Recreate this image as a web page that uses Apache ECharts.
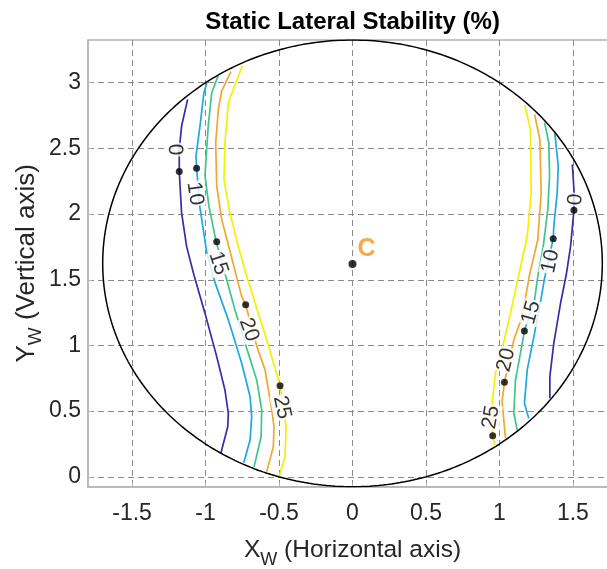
<!DOCTYPE html>
<html><head><meta charset="utf-8">
<script src="https://cdn.jsdelivr.net/npm/echarts@6/dist/echarts.min.js"></script>
<style>html,body{margin:0;padding:0;background:#fff;overflow:hidden;width:607px;height:569px}#c{width:617px;height:569px}</style>
</head><body><div id="c"></div>
<script>
// ---- data ----
const titleText = 'Static Lateral Stability (%)';
const xTicks = [-1.5, -1, -0.5, 0, 0.5, 1, 1.5];
const yTicks = [0, 0.5, 1, 1.5, 2, 2.5, 3];
const levels = ['0', '10', '15', '20', '25'];

const contour0Left = [[-1.122,2.873],[-1.163,2.67],[-1.179,2.49],[-1.179,2.324],[-1.163,2.009],[-1.129,1.754],[-1.08,1.54],[-1.004,1.246],[-0.924,0.915],[-0.868,0.661],[-0.845,0.484],[-0.849,0.381],[-0.895,0.183]];
const contour10Left = [[-0.99,3.005],[-1.011,2.924],[-1.038,2.67],[-1.065,2.441],[-1.061,2.349],[-1.038,2.047],[-0.993,1.716],[-0.936,1.48],[-0.845,1.195],[-0.754,0.865],[-0.697,0.61],[-0.686,0.458],[-0.697,0.28],[-0.74,0.107]];
const contour15Left = [[-0.915,3.051],[-0.958,2.924],[-0.982,2.67],[-1.004,2.294],[-0.977,2.06],[-0.93,1.8],[-0.856,1.5],[-0.8,1.272],[-0.72,0.979],[-0.652,0.738],[-0.618,0.509],[-0.622,0.305],[-0.67,0.076]];
const contour20Left = [[-0.827,3.085],[-0.89,2.937],[-0.913,2.797],[-0.931,2.543],[-0.924,2.212],[-0.89,1.958],[-0.845,1.767],[-0.793,1.539],[-0.754,1.373],[-0.727,1.31],[-0.652,0.997],[-0.595,0.814],[-0.549,0.509],[-0.534,0.381],[-0.539,0.229],[-0.584,0.038]];
const contour25Left = [[-0.75,3.127],[-0.811,2.95],[-0.845,2.848],[-0.868,2.543],[-0.875,2.263],[-0.834,2.009],[-0.777,1.754],[-0.72,1.526],[-0.663,1.323],[-0.584,1.043],[-0.504,0.738],[-0.493,0.694],[-0.452,0.381],[-0.459,0.153],[-0.5,0.0]];

const contour0Right = [[1.496,2.378],[1.507,2.187],[1.507,2.029],[1.484,1.754],[1.455,1.54],[1.416,1.323],[1.37,1.018],[1.343,0.763],[1.343,0.598]];
const contour10Right = [[1.377,2.614],[1.4,2.365],[1.393,2.162],[1.37,1.907],[1.366,1.813],[1.305,1.5],[1.28,1.335],[1.239,1.094],[1.189,0.814],[1.17,0.56],[1.2,0.445]];
const contour15Right = [[1.307,2.696],[1.336,2.543],[1.341,2.288],[1.329,2.034],[1.298,1.754],[1.261,1.526],[1.239,1.348],[1.17,1.111],[1.143,0.941],[1.109,0.738],[1.098,0.484],[1.121,0.356]];
const contour20Right = [[1.239,2.759],[1.275,2.568],[1.284,2.162],[1.261,1.805],[1.205,1.54],[1.155,1.22],[1.098,1.043],[1.034,0.72],[1.018,0.572],[1.041,0.293]];
const contour25Right = [[1.173,2.828],[1.211,2.645],[1.216,2.162],[1.189,1.831],[1.132,1.54],[1.075,1.246],[1.03,1.03],[0.973,0.789],[0.95,0.56],[0.954,0.313],[0.968,0.242]];

// label anchor dots on each contour
const labelDots = [[-1.179,2.324],[-1.061,2.349],[-0.924,1.79],[-0.727,1.31],[-0.493,0.694],
                   [1.507,2.029],[1.366,1.813],[1.17,1.111],[1.034,0.72],[0.954,0.313]];
// label texts: [x, y, text]
const labelTexts = [[-1.209,2.49,'0'],[-1.072,2.156,'10'],[-0.913,1.626,'15'],[-0.704,1.119,'20'],[-0.481,0.529,'25'],
                    [1.518,2.11,'0'],[1.348,1.64,'10'],[1.216,1.251,'15'],[1.046,0.89,'20'],[0.943,0.453,'25']];
const labelAngles = [-88,-82,-72,-70,-78, 86,78,74,76,80];

const centerPoint = [0, 1.62];
const centerName = 'C';
const ellipseCenter = [0, 1.625];
const ellipseRadii = [1.70, 1.70];

// ---- styles ----
const levelColors = ['#3d2aa8', '#1ea8e2', '#3cc68a', '#f0a830', '#f5f000'];
const FONT = 'Liberation Sans, Arial, Helvetica, sans-serif';

const ellipsePts = [];
for (let i = 0; i <= 360; i++) {
  const t = i * Math.PI / 180;
  ellipsePts.push([ellipseCenter[0] + ellipseRadii[0] * Math.cos(t), ellipseCenter[1] + ellipseRadii[1] * Math.sin(t)]);
}

const contourSets = [
  [contour0Left, contour0Right],
  [contour10Left, contour10Right],
  [contour15Left, contour15Right],
  [contour20Left, contour20Right],
  [contour25Left, contour25Right]
];

const series = [];
contourSets.forEach((pair, i) => {
  pair.forEach(d => {
    series.push({
      type: 'line', data: d, symbol: 'none', z: 2, silent: true,
      lineStyle: { color: levelColors[i], width: 1.7 }
    });
  });
});
series.push({
  type: 'line', data: ellipsePts, symbol: 'none', z: 3, silent: true,
  lineStyle: { color: '#000', width: 1.5 }
});
series.push({
  type: 'scatter', z: 5, silent: true, symbolSize: 1,
  itemStyle: { color: 'rgba(0,0,0,0)' },
  data: labelTexts.map((t, i) => ({
    value: [t[0], t[1]], name: t[2],
    label: { rotate: labelAngles[i] }
  })),
  label: {
    show: true, position: 'inside', formatter: p => p.name,
    fontFamily: FONT, fontSize: 21, color: '#000',
    backgroundColor: '#fff', padding: [0, 1, -1, 1]
  }
});
series.push({
  type: 'scatter', z: 6, silent: true, symbolSize: 7,
  itemStyle: { color: '#000' },
  data: labelDots
});
series.push({
  type: 'scatter', z: 6, silent: true, symbolSize: 8,
  itemStyle: { color: '#000' },
  data: [{ value: centerPoint, name: centerName }],
  label: {
    show: true, position: 'right', distance: 1, offset: [0, -15],
    formatter: p => p.name, fontFamily: FONT, fontWeight: 'bold',
    fontSize: 25, color: '#f7941d'
  }
});

const nameRich = {
  m: { fontFamily: FONT, fontSize: 24.5, color: '#262626', lineHeight: 28 },
  s: { fontFamily: FONT, fontSize: 18, color: '#262626', lineHeight: 20, padding: [18, 0, 0, 0] }
};
const nameRichY = {
  m: { fontFamily: FONT, fontSize: 26, color: '#262626', lineHeight: 30 },
  s: { fontFamily: FONT, fontSize: 19, color: '#262626', lineHeight: 21, padding: [18, 0, 0, 0] }
};

const chart = echarts.init(document.getElementById('c'), null, { renderer: 'canvas' });
chart.setOption({
  animation: false,
  backgroundColor: '#fff',
  graphic: [{
    type: 'text', x: 352.5, y: 22, silent: true,
    style: {
      text: titleText, align: 'center', verticalAlign: 'middle',
      font: 'bold 24px ' + FONT, fill: '#000'
    }
  }],
  grid: {
    left: 88, top: 40, right: 0, bottom: 82.3, containLabel: false,
    outerBoundsMode: 'none',
    show: true, borderColor: '#b4b4b4', borderWidth: 1.5
  },
  xAxis: {
    type: 'value', min: -1.8, max: 1.8,
    name: '{m|X}{s|W}{m| (Horizontal axis)}', nameLocation: 'middle', nameGap: 50,
    nameTextStyle: { rich: nameRich },
    axisLine: { show: true, onZero: false, lineStyle: { color: '#b4b4b4', width: 1.5 } },
    axisTick: { show: true, inside: true, length: 4, customValues: xTicks, lineStyle: { color: '#b4b4b4' } },
    axisLabel: { customValues: xTicks, fontFamily: FONT, fontSize: 23, color: '#262626', margin: 15 },
    splitLine: { show: true, lineStyle: { type: [6, 4], color: '#8a8a8a', width: 1 } }
  },
  yAxis: {
    type: 'value', min: -0.075, max: 3.325,
    name: '{m|Y}{s|W}{m| (Vertical axis)}', nameLocation: 'middle', nameGap: 46,
    nameMoveOverlap: false,
    nameTextStyle: { rich: nameRichY },
    axisLine: { show: true, onZero: false, lineStyle: { color: '#b4b4b4', width: 1.5 } },
    axisTick: { show: true, inside: true, length: 4, customValues: yTicks, lineStyle: { color: '#b4b4b4' } },
    axisLabel: { customValues: yTicks, fontFamily: FONT, fontSize: 23, color: '#262626', margin: 7 },
    splitLine: { show: true, lineStyle: { type: [6, 4], color: '#8a8a8a', width: 1 } }
  },
  series: series
});
</script>
</body></html>
